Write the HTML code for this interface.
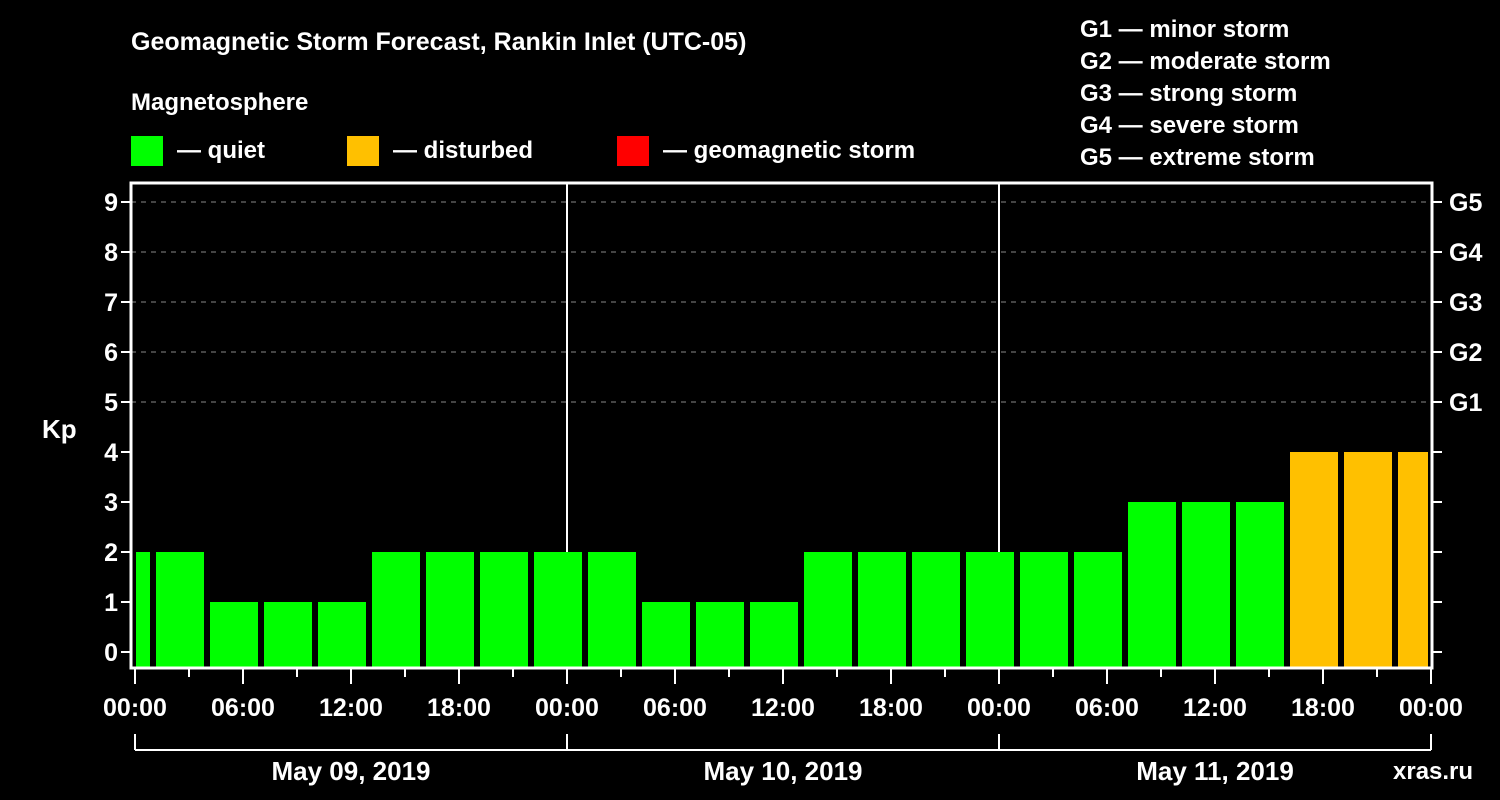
<!DOCTYPE html>
<html><head><meta charset="utf-8"><style>
body{margin:0;background:#000;}
svg{display:block;font-family:"Liberation Sans",Arial,sans-serif;font-weight:bold;}
</style></head><body>
<svg width="1500" height="800" viewBox="0 0 1500 800">
<rect width="1500" height="800" fill="#000"/>
<text x="131" y="50" fill="#fff" font-size="25">Geomagnetic Storm Forecast, Rankin Inlet (UTC-05)</text>
<text x="131" y="110" fill="#fff" font-size="24">Magnetosphere</text>
<g>
<rect x="131" y="136" width="32" height="30" fill="#00ff00"/>
<text x="177" y="158" fill="#fff" font-size="24">— quiet</text>
<rect x="347" y="136" width="32" height="30" fill="#ffc000"/>
<text x="393" y="158" fill="#fff" font-size="24">— disturbed</text>
<rect x="617" y="136" width="32" height="30" fill="#ff0000"/>
<text x="663" y="158" fill="#fff" font-size="24">— geomagnetic storm</text>
</g>
<g fill="#fff" font-size="24">
<text x="1080" y="37">G1 — minor storm</text>
<text x="1080" y="69">G2 — moderate storm</text>
<text x="1080" y="101">G3 — strong storm</text>
<text x="1080" y="133">G4 — severe storm</text>
<text x="1080" y="165">G5 — extreme storm</text>
</g>
<text x="42" y="438" fill="#fff" font-size="26">Kp</text>
<text x="1393" y="779" fill="#fff" font-size="24">xras.ru</text>
<g id="grid"></g>
<g id="bars"></g>
<g id="axes"></g>
</svg>
<script>
const kpValues=[2,2,1,1,1,2,2,2,2,2,1,1,1,2,2,2,2,2,2,3,3,3,4,4,4];
const barStartHours=[-2,1,4,7,10,13,16,19,22,25,28,31,34,37,40,43,46,49,52,55,58,61,64,67,70];
const dayLabels=["May 09, 2019","May 10, 2019","May 11, 2019"];
const timeLabels=["00:00","06:00","12:00","18:00"];
const gLabels=["G1","G2","G3","G4","G5"];
const NS="http://www.w3.org/2000/svg";
const X0=135,PXH=18,Y0=652,PXU=50,LEFT=131,RIGHT=1432,TOP=183,BOT=668;
const xh=h=>X0+h*PXH, yv=v=>Y0-v*PXU;
function mk(tag,attrs,parent){const e=document.createElementNS(NS,tag);for(const k in attrs)e.setAttribute(k,attrs[k]);document.getElementById(parent).appendChild(e);return e;}
// grid
for(let v=5;v<=9;v++){
 const l=mk('line',{x1:LEFT,x2:RIGHT,y1:yv(v),y2:yv(v),stroke:'#888','stroke-dasharray':'5,5','stroke-width':1},'grid');
 
 
}
for(let d=1;d<3;d++){
 const l=mk('line',{x1:xh(d*24),x2:xh(d*24),y1:TOP,y2:BOT,stroke:'#fff','stroke-width':2},'grid');
 
 
}
// bars
kpValues.forEach((v,i)=>{
 let x1=Math.max(xh(barStartHours[i])+3,LEFT+5), x2=Math.min(xh(barStartHours[i]+3)-3,RIGHT-4);
 const c=v>=5?'#ff0000':(v>=4?'#ffc000':'#00ff00');
 const r=mk('rect',{x:x1,y:yv(v),width:x2-x1,height:BOT-yv(v),fill:c},'bars');
 
 
});
// frame
const f=mk('rect',{x:LEFT,y:TOP,width:RIGHT-LEFT,height:BOT-TOP,fill:'none',stroke:'#fff','stroke-width':3},'axes');


for(let v=0;v<=9;v++){
 mk('line',{x1:LEFT-10,x2:LEFT,y1:yv(v),y2:yv(v),stroke:'#fff','stroke-width':2},'axes');
 mk('line',{x1:RIGHT,x2:RIGHT+10,y1:yv(v),y2:yv(v),stroke:'#fff','stroke-width':2},'axes');
 const t=mk('text',{x:LEFT-13,y:yv(v)+9,fill:'#fff','font-size':25,'text-anchor':'end'},'axes');
 t.textContent=v;
 
 
}
gLabels.forEach((g,i)=>{
 const t=mk('text',{x:RIGHT+17,y:yv(i+5)+9,fill:'#fff','font-size':25},'axes');
 t.textContent=g;
 
 
});
for(let h=0;h<=72;h+=3){
 const major=h%6===0;
 mk('line',{x1:xh(h),x2:xh(h),y1:BOT,y2:BOT+(major?16:9),stroke:'#fff','stroke-width':2},'axes');
 if(major){
  const t=mk('text',{x:xh(h),y:716,fill:'#fff','font-size':25,'text-anchor':'middle'},'axes');
  t.textContent=timeLabels[(h/6)%4];
  
  
 }
}
mk('line',{x1:xh(0),x2:xh(72),y1:750,y2:750,stroke:'#fff','stroke-width':2},'axes');
for(let d=0;d<=3;d++) mk('line',{x1:xh(d*24),x2:xh(d*24),y1:734,y2:750,stroke:'#fff','stroke-width':2},'axes');
dayLabels.forEach((s,d)=>{
 const t=mk('text',{x:xh(d*24+12),y:780,fill:'#fff','font-size':26,'text-anchor':'middle'},'axes');
 t.textContent=s;
 
 
});
</script>
</body></html>
